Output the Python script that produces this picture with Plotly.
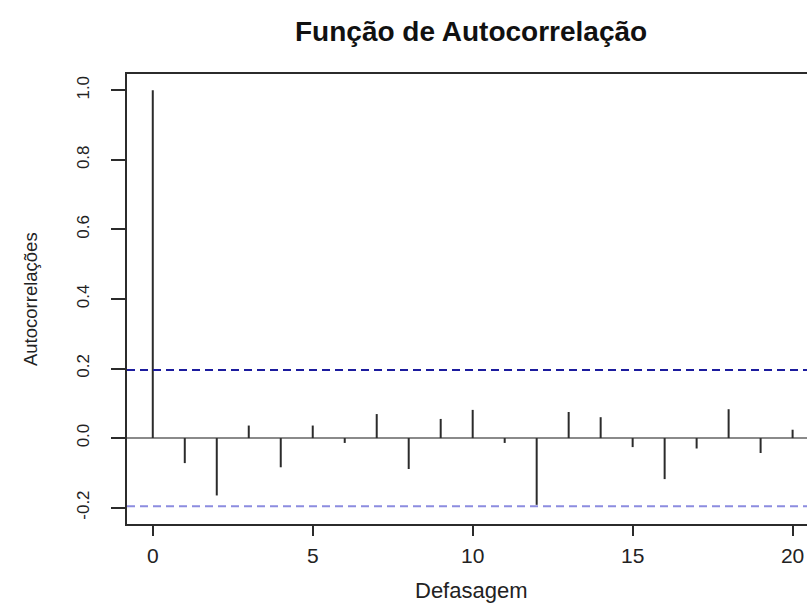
import plotly.graph_objects as go

# Sample autocorrelations by lag
lags = list(range(0, 21))
acf_values = [1.0, -0.072, -0.165, 0.036, -0.084, 0.036, -0.014, 0.069, -0.089, 0.055,
              0.081, -0.014, -0.192, 0.075, 0.060, -0.026, -0.118, -0.030, 0.083, -0.043, 0.024]
n_obs = 100
conf_limit = 1.96 / n_obs ** 0.5

y_tick_vals = [-0.2, 0.0, 0.2, 0.4, 0.6, 0.8, 1.0]
y_tick_text = ["-0.2", "0.0", "0.2", "0.4", "0.6", "0.8", "1.0"]
x_tick_vals = [0, 5, 10, 15, 20]

FONT = "Liberation Sans, Arial, sans-serif"
INK = "#2b2b2b"

# vertical spikes from zero to each autocorrelation
spike_x, spike_y = [], []
for lag, r in zip(lags, acf_values):
    spike_x += [lag, lag, None]
    spike_y += [0, r, None]

fig = go.Figure()
fig.add_trace(go.Scatter(
    x=spike_x, y=spike_y, mode="lines",
    line=dict(color=INK, width=2), hoverinfo="skip", showlegend=False,
))

# confidence bounds
fig.add_shape(type="line", xref="paper", x0=0, x1=1, yref="y", y0=conf_limit, y1=conf_limit,
              line=dict(color="#1c1c9e", width=2, dash="8px,5px"))
fig.add_shape(type="line", xref="paper", x0=0, x1=1, yref="y", y0=-conf_limit, y1=-conf_limit,
              line=dict(color="#8c8ce0", width=2, dash="8px,5px"))

fig.update_layout(
    width=807, height=615,
    margin=dict(l=127, r=0, t=74, b=91),
    paper_bgcolor="white", plot_bgcolor="white",
    font=dict(family=FONT, color="#222222"),
    showlegend=False,
    xaxis=dict(
        range=[-0.806, 20.45],
        tickvals=x_tick_vals,
        ticks="outside", ticklen=10, tickwidth=1.5, tickcolor=INK,
        tickfont=dict(size=21, family=FONT, color="#222222"),
        ticklabelstandoff=2,
        showline=True, linecolor=INK, linewidth=1.5, mirror=True,
        showgrid=False, zeroline=False,
    ),
    yaxis=dict(
        range=[-0.2471, 1.0468],
        tickvals=y_tick_vals, ticktext=y_tick_text,
        tickangle=-90,
        ticks="outside", ticklen=14, tickwidth=1.5, tickcolor=INK,
        tickfont=dict(size=17, family=FONT, color="#222222"),
        ticklabelstandoff=15,
        showline=True, linecolor=INK, linewidth=1.5, mirror=False,
        showgrid=False,
        zeroline=True, zerolinecolor="#8a8a8a", zerolinewidth=1.5,
    ),
    annotations=[
        dict(text="<b>Função de Autocorrelação</b>", xref="paper", yref="paper",
             x=0.506, y=1.0955, xanchor="center", yanchor="middle", showarrow=False,
             font=dict(size=28, family=FONT, color="#111111")),
        dict(text="Defasagem", xref="paper", yref="paper",
             x=0.506, y=-0.148, xanchor="center", yanchor="middle", showarrow=False,
             font=dict(size=22, family=FONT, color="#222222")),
        dict(text="Autocorrelações", xref="paper", yref="paper",
             x=-0.1426, y=0.5, xanchor="center", yanchor="middle", showarrow=False,
             textangle=-90, font=dict(size=18.5, family=FONT, color="#222222")),
    ],
)

fig.write_html("out.html")
